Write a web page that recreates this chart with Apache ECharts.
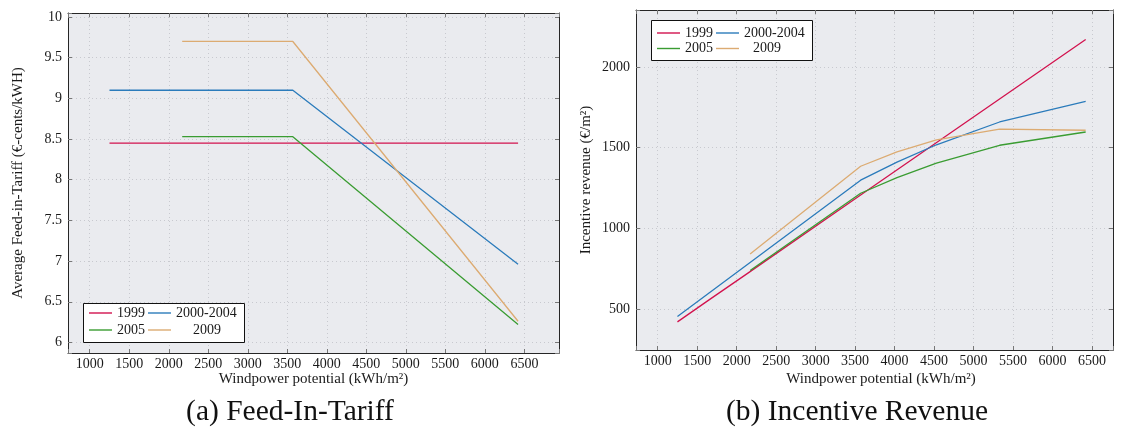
<!DOCTYPE html>
<html>
<head>
<meta charset="utf-8">
<script src="https://cdn.jsdelivr.net/npm/echarts@6/dist/echarts.min.js"></script>
<style>
html,body{margin:0;padding:0;background:#fff;}
#chart{width:1121px;height:435px;}
</style>
</head>
<body>
<div id="chart"></div>
<script>
// ---- data ----
const seriesNames = ['1999', '2000-2004', '2005', '2009'];
const seriesColors = ['#d2124e', '#2b7bbb', '#3a9c32', '#dcab72'];

// (a) Feed-In-Tariff (€-cents/kWH) vs windpower potential
const fitX1999 = [1250, 6420];
const fit1999 = [8.45, 8.45];
const fitX2000 = [1250, 3570, 6420];
const fit2000 = [9.1, 9.1, 6.96];
const fitX2005 = [2170, 3570, 6420];
const fit2005 = [8.53, 8.53, 6.22];
const fitX2009 = [2170, 3570, 6420];
const fit2009 = [9.7, 9.7, 6.26];

// (b) Incentive revenue (€/m²) vs windpower potential
const revX1999 = [1250, 1650, 2170, 3570, 6420];
const rev1999 = [422, 558, 733, 1207, 2170];
const revX2000 = [1250, 1650, 2170, 3570, 4030, 4530, 5330, 6420];
const rev2000 = [455, 601, 790, 1299, 1411, 1518, 1659, 1787];
const revX2005 = [2170, 3570, 4030, 4530, 5330, 6420];
const rev2005 = [740, 1218, 1315, 1405, 1515, 1597];
const revX2009 = [2170, 3570, 4030, 4530, 5330, 6420];
const rev2009 = [842, 1385, 1474, 1548, 1615, 1608];

const xAxisTitle = 'Windpower potential (kWh/m²)';
const yTitleA = 'Average Feed-in-Tariff (€-cents/kWH)';
const yTitleB = 'Incentive revenue (€/m²)';
const captionA = '(a) Feed-In-Tariff';
const captionB = '(b) Incentive Revenue';

// ---- helpers ----
const FONT = 'Liberation Serif';
const TXT = '#1a1a1a';
const zip = (xs, ys) => xs.map((x, i) => [x, ys[i]]);
const isMult = (v, step) => Math.abs(v / step - Math.round(v / step)) < 1e-6;

function axis(kind, opts) {
  const main = opts.main;
  const step = opts.step;
  const a = {
    type: 'value',
    gridIndex: opts.grid,
    position: opts.position,
    min: opts.min,
    max: opts.max,
    splitNumber: opts.split,
    axisLine: { show: true, onZero: false, lineStyle: { color: '#262626', width: 1 } },
    axisTick: { show: true, inside: true, length: 4, lineStyle: { color: '#777', width: 1 } },
    axisLabel: {
      show: main,
      fontFamily: FONT, fontSize: 14, color: TXT, margin: kind === 'x' ? 4 : 6,
      formatter: v => (isMult(v, step) ? String(+v.toFixed(4)) : '')
    },
    splitLine: main ? { show: true, lineStyle: { color: '#c8c9cf', type: [1, 3], width: 1 } } : { show: false }
  };
  if (main && opts.name) {
    a.name = opts.name;
    a.nameLocation = 'middle';
    a.nameGap = opts.nameGap;
    a.nameMoveOverlap = false;
    a.nameTextStyle = { fontFamily: FONT, fontSize: 15, color: TXT, padding: opts.namePad || 0 };
  }
  return a;
}

const grids = [
  { left: 68, top: 13, width: 491, height: 340, show: true, backgroundColor: '#eaebef', borderWidth: 0 },
  { left: 636, top: 10, width: 477, height: 340, show: true, backgroundColor: '#eaebef', borderWidth: 0 }
];

const xAxes = [
  axis('x', { grid: 0, position: 'bottom', min: 725, max: 6938, split: 12, step: 500, main: true, name: xAxisTitle, nameGap: 19 }),
  axis('x', { grid: 0, position: 'top', min: 725, max: 6938, split: 12, step: 500, main: false }),
  axis('x', { grid: 1, position: 'bottom', min: 725, max: 6766, split: 12, step: 500, main: true, name: xAxisTitle, nameGap: 22, namePad: [0, 0, 0, 13] }),
  axis('x', { grid: 1, position: 'top', min: 725, max: 6766, split: 12, step: 500, main: false })
];
const yAxes = [
  axis('y', { grid: 0, position: 'left', min: 5.87, max: 10.05, split: 8, step: 0.5, main: true, name: yTitleA, nameGap: 42 }),
  axis('y', { grid: 0, position: 'right', min: 5.87, max: 10.05, split: 8, step: 0.5, main: false }),
  axis('y', { grid: 1, position: 'left', min: 248, max: 2352, split: 4, step: 500, main: true, name: yTitleB, nameGap: 42 }),
  axis('y', { grid: 1, position: 'right', min: 248, max: 2352, split: 4, step: 500, main: false })
];

function line(name, idx, data, gi) {
  return {
    name: name, type: 'line', data: data,
    xAxisIndex: gi * 2, yAxisIndex: gi * 2,
    showSymbol: false, symbol: 'none', silent: true, animation: false,
    lineStyle: { color: seriesColors[idx], width: 1.3 },
    itemStyle: { color: seriesColors[idx] },
    z: 3
  };
}

const series = [
  line('1999', 0, zip(fitX1999, fit1999), 0),
  line('2000-2004', 1, zip(fitX2000, fit2000), 0),
  line('2005', 2, zip(fitX2005, fit2005), 0),
  line('2009', 3, zip(fitX2009, fit2009), 0),
  line('1999', 0, zip(revX1999, rev1999), 1),
  line('2000-2004', 1, zip(revX2000, rev2000), 1),
  line('2005', 2, zip(revX2005, rev2005), 1),
  line('2009', 3, zip(revX2009, rev2009), 1)
];

// legends: one component per entry, placed like the original 2x2 layout
function leg(name, left, cy, shift) {
  const l = {
    show: true, data: [name], left: left, top: cy - 8, padding: 0,
    orient: 'horizontal', icon: 'rect', itemWidth: 23, itemHeight: 1.4, itemGap: 0,
    selectedMode: false, z: 10,
    textStyle: { fontFamily: FONT, fontSize: 14, color: TXT }
  };
  if (shift) {
    l.formatter = '{s|' + name + '}';
    l.textStyle.rich = { s: { fontFamily: FONT, fontSize: 14, color: TXT, padding: [0, 0, 0, shift] } };
  }
  return l;
}
const legends = [
  leg('1999', 89, 314), leg('2000-2004', 148, 314), leg('2005', 89, 331), leg('2009', 148, 331, 17),
  leg('1999', 657, 34), leg('2000-2004', 716, 34), leg('2005', 657, 49.5), leg('2009', 716, 49.5, 9)
];

const graphic = [
  { type: 'rect', z: 5, shape: { x: 83.5, y: 303.5, width: 161, height: 39 }, style: { fill: '#fff', stroke: '#111', lineWidth: 1 } },
  { type: 'rect', z: 5, shape: { x: 651.5, y: 20.5, width: 161, height: 40 }, style: { fill: '#fff', stroke: '#111', lineWidth: 1 } },
  { type: 'text', z: 5, x: 290, y: 412, style: { text: captionA, font: '29.5px "Liberation Serif"', fill: '#111', textAlign: 'center', textVerticalAlign: 'middle' } },
  { type: 'text', z: 5, x: 857, y: 412, style: { text: captionB, font: '29.5px "Liberation Serif"', fill: '#111', textAlign: 'center', textVerticalAlign: 'middle' } }
];

const chart = echarts.init(document.getElementById('chart'));
chart.setOption({
  animation: false,
  backgroundColor: '#fff',
  grid: grids,
  xAxis: xAxes,
  yAxis: yAxes,
  legend: legends,
  graphic: graphic,
  series: series
});
</script>
</body>
</html>
